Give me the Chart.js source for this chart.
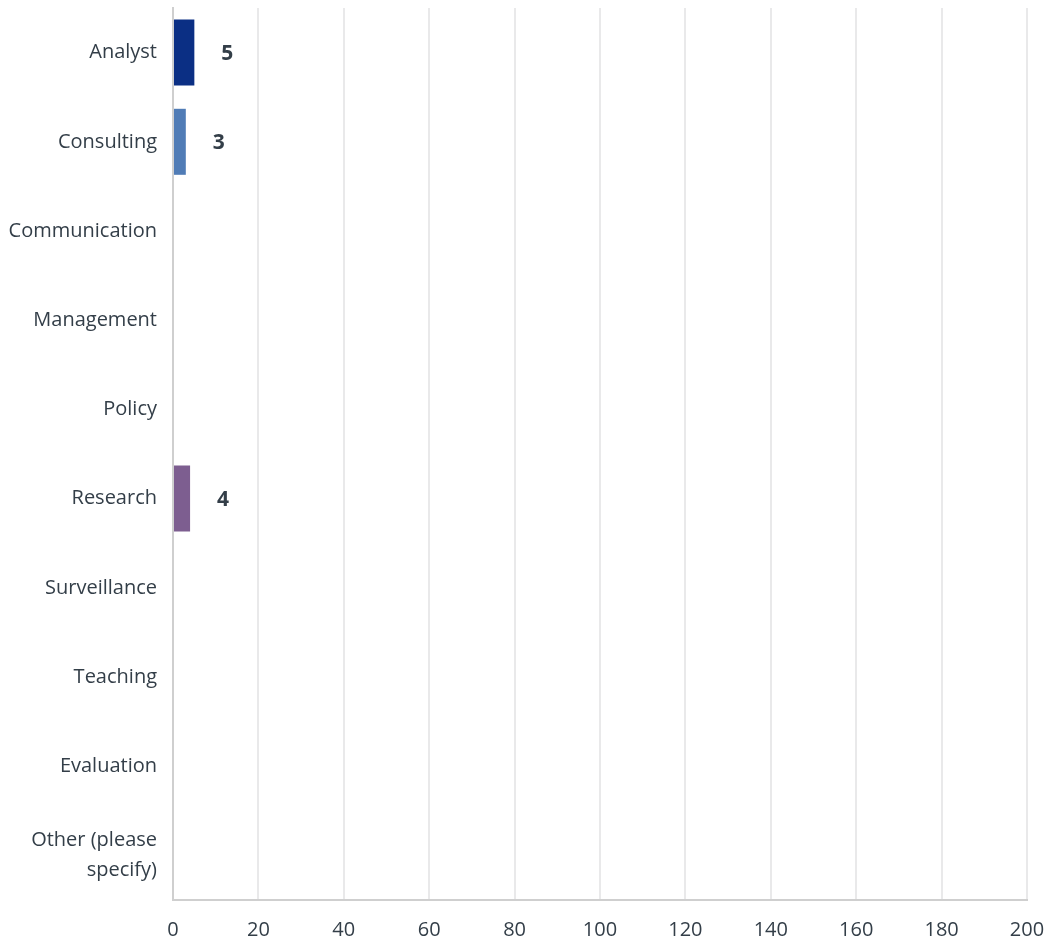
<!DOCTYPE html>
<html>
<head>
<meta charset="utf-8">
<script src="https://cdn.jsdelivr.net/npm/chart.js@4.4.0/dist/chart.umd.min.js"></script>
<style>
  html, body { margin: 0; padding: 0; background: #fff; }
  #wrap { width: 1050px; height: 945px; }
</style>
</head>
<body>
<div id="wrap"><canvas id="barChart"></canvas></div>
<script>
const kategorie = ['Analyst', 'Consulting', 'Communication', 'Management', 'Policy', 'Research', 'Surveillance', 'Teaching', 'Evaluation', ['Other (please', 'specify)']];
const wartosci = [5, 3, 0, 0, 0, 4, 0, 0, 0, 0];
const kolory = ['#0b2f84', '#507cb6', '#6fa0d8', '#a7c4e6', '#c9d9ef', '#7d5e90', '#9b7fb0', '#b8a3c8', '#d3c5de', '#e6def0'];
const xTicki = [0, 20, 40, 60, 80, 100, 120, 140, 160, 180, 200];

// etykiety z wartoscia po prawej stronie slupka
const etykiety = {
    id: 'etykiety',
    afterDatasetsDraw(chart) {
        const ctx = chart.ctx;
        const meta = chart.getDatasetMeta(0);
        ctx.save();
        ctx.font = 'bold 21px "Open Sans", sans-serif';
        ctx.fillStyle = '#333e48';
        ctx.textAlign = 'center';
        ctx.textBaseline = 'middle';
        meta.data.forEach((bar, i) => {
            if (!wartosci[i]) return;
            ctx.fillText(String(wartosci[i]), bar.x + 33, bar.y + 1);
        });
        ctx.restore();
    }
};

new Chart(document.getElementById('barChart'), {
    type: 'bar',
    data: {
        labels: kategorie,
        datasets: [{
            data: wartosci,
            backgroundColor: kolory,
            barPercentage: 0.74,
            categoryPercentage: 1
        }]
    },
    options: {
        indexAxis: 'y',
        responsive: true,
        maintainAspectRatio: false,
        animation: false,
        layout: { padding: { top: 8, right: 23, left: 0, bottom: 0 } },
        plugins: {
            legend: { display: false },
            tooltip: { enabled: false }
        },
        scales: {
            x: {
                min: 0,
                max: 200,
                afterBuildTicks(scale) {
                    scale.ticks = xTicki.map(v => ({ value: v }));
                },
                afterFit(scale) {
                    scale.height = 45;
                    scale.paddingLeft = 0;
                    scale.paddingRight = 0;
                },
                grid: { color: '#e9e9ea', lineWidth: 2, drawTicks: false },
                border: { color: '#cfcfcf', width: 2 },
                ticks: {
                    color: '#333e48',
                    padding: 18,
                    font: { family: '"Open Sans", sans-serif', size: 20 }
                }
            },
            y: {
                afterFit(scale) {
                    scale.width = 173;
                    scale.paddingTop = 0;
                    scale.paddingBottom = 0;
                },
                grid: { display: false },
                border: { color: '#cfcfcf', width: 2 },
                ticks: {
                    color: '#333e48',
                    padding: 8,
                    font: { family: '"Open Sans", sans-serif', size: 20, lineHeight: 1.5 }
                }
            }
        }
    },
    plugins: [etykiety]
});
</script>
</body>
</html>
